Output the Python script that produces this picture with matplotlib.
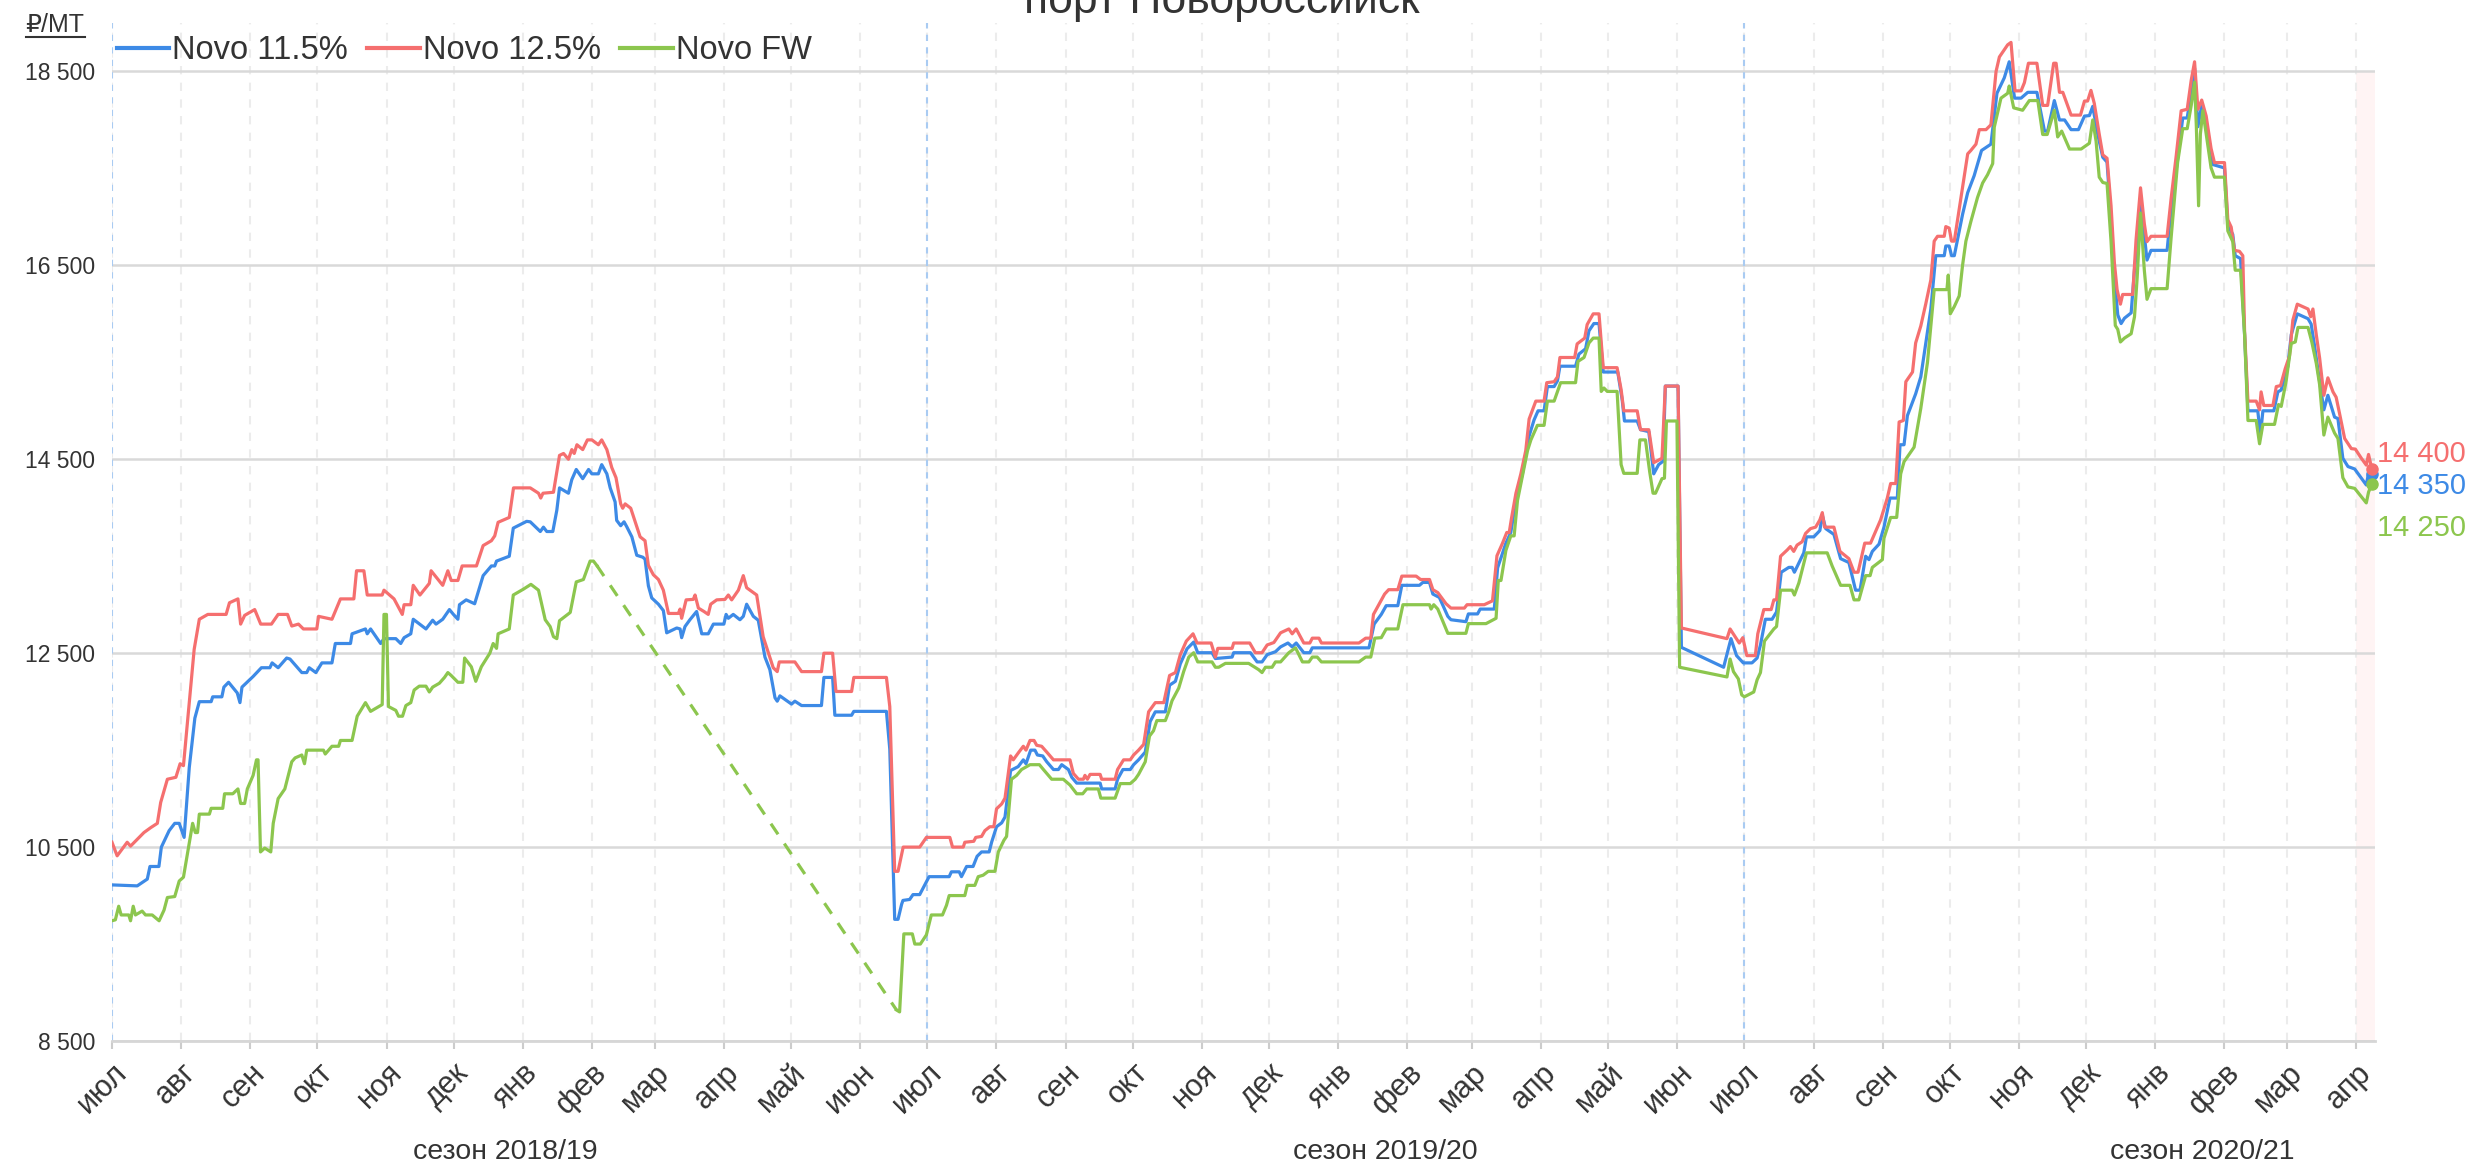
import numpy as np
import pandas as pd
import matplotlib
matplotlib.use("Agg")
import matplotlib.pyplot as plt
import matplotlib.dates as mdates
from matplotlib.ticker import FuncFormatter
from matplotlib.transforms import blended_transform_factory
from matplotlib.lines import Line2D

plt.rcParams['font.family'] = ['Liberation Sans', 'DejaVu Sans']

START = pd.Timestamp("2018-07-01")

# prices, rub/mt; x = days since 2018-07-01
blue_day = [0, 11.3, 15.8, 17, 21, 22.1, 25.6, 28.1, 30.1, 32.3, 34.6, 37.1, 39.1, 44.4, 45.1, 49.2, 50.1, 52.2,
            56.1, 57.3, 58.2, 63.2, 66.9, 70.7, 71.7, 74.4, 78.2, 79.7, 85, 87.2, 88.3, 91.3, 94, 98.5, 100,
            106.8, 107.5, 113.5, 114.3, 115.8, 120.3, 121.8, 127.1, 129.3, 130.8, 133.8, 134.9, 140.6, 143.6,
            145.1, 148.1, 151.1, 152.9, 154.9, 155.6, 158.6, 162.4, 166.2, 169.9, 171.4, 172.2, 177.9, 179.7,
            185.7, 187.3, 191.8, 193.2, 194.7, 197.4, 199.2, 200.4, 204.4, 205.9, 207.9, 210.8, 213.4, 214.9,
            217.8, 219.3, 221.6, 223.1, 225.3, 226, 227.8, 229.3, 230.5, 232.8, 235, 237.7, 238.7, 240.2, 241.7,
            244.7, 246.9, 248.4, 252.9, 254.4, 255.1, 256.6, 258.8, 261.8, 264.1, 267, 269.3, 274, 275, 276,
            278.2, 281.2, 282.7, 284.2, 287.2, 289.4, 292.4, 294.6, 296.9, 297.9, 299.1, 304.3, 305.8, 308.8,
            317.7, 318.8, 322.7, 323.7, 331.2, 332.2, 346.8, 348.3, 350.5, 352, 353.6, 354.2, 357.2, 358.7,
            361.7, 365.9, 374.9, 375.9, 379.4, 380.4, 382.7, 385.6, 387.4, 389.4, 392.8, 393.9, 396.1, 398.4,
            399.9, 402.4, 405.8, 408.1, 409.3, 411.4, 413.3, 414.4, 416.8, 418.6, 421.6, 423.8, 425.3, 428.3,
            429.8, 432, 442.5, 443.2, 449.2, 450.3, 452.7, 456, 457.5, 459.7, 462.7, 464.9, 467.2, 471.7, 473.6,
            476.2, 478.4, 481.4, 484.4, 486.2, 492.6, 494.1, 501.6, 502.3, 509.8, 512.8, 515, 517.3, 521, 523.3,
            526.6, 528.5, 530.3, 533.7, 536.4, 537.5, 562.9, 565.2, 568.4, 570.6, 575.8, 577.6, 585.5, 587, 590,
            591.5, 594.4, 598.2, 599.6, 606.3, 607.4, 611.5, 612.7, 619, 620.5, 624.2, 626.4, 628.7, 631.6,
            634.6, 636.8, 638.6, 641.3, 642.8, 645.8, 647.3, 648.4, 655.4, 656.9, 659.9, 661.4, 663.6, 665.9,
            667.8, 674.3, 676.3, 677.3, 683, 684.5, 688.2, 690.4, 692.6, 694.6, 695.6, 701.3, 702.8, 721.7, 725,
            727.5, 730.5, 734.4, 736.7, 738.2, 740.4, 743.4, 745.4, 747.5, 750.9, 752.4, 753.4, 757.6, 758.8,
            762.1, 764.8, 765.9, 767.4, 771.1, 774.1, 777.8, 780.8, 782.8, 785.3, 786.8, 788.3, 791.3, 793.5,
            796.2, 799.5, 800.7, 802.5, 804, 807.7, 810, 814.5, 816.7, 820.5, 821.2, 822.7, 823.8, 825, 828.7,
            831, 833.9, 837.2, 841.4, 844.1, 847.4, 849.6, 852, 854.9, 857.9, 862, 865.4, 866.8, 869.8, 872.1,
            874.4, 877.3, 880.6, 883.3, 885.5, 887, 889.2, 891.5, 893.4, 895.2, 896.7, 898.2, 899.7, 901.2,
            904.2, 905.7, 906.9, 908.4, 909.9, 911.3, 913.1, 920.3, 922.1, 925, 927.3, 929.3, 931.1, 932.6,
            934.1, 935.8, 937.8, 940.8, 946, 947.5, 949.7, 950.8, 953.2, 955, 956.5, 960.9, 962.1, 963.2, 968.1,
            969.9, 971.4, 974.4, 975.9, 978.6, 983.4, 984.8, 986.3, 988.1, 990.5, 992.3, 995.3, 996.8, 999,
            1001.3, 1004.3, 1009.5, 1010.5, 1012]
blue_val = [10110, 10100, 10170, 10300, 10300, 10500, 10670, 10745, 10745, 10600, 11320, 11830, 12000, 12000,
            12050, 12050, 12150, 12200, 12090, 11990, 12150, 12260, 12350, 12350, 12400, 12350, 12450, 12440,
            12300, 12300, 12350, 12300, 12400, 12400, 12600, 12600, 12700, 12750, 12700, 12750, 12600, 12650,
            12650, 12600, 12660, 12700, 12850, 12750, 12840, 12800, 12850, 12950, 12900, 12850, 13000, 13050,
            13010, 13300, 13400, 13400, 13450, 13500, 13790, 13860, 13855, 13755, 13800, 13755, 13755, 13975,
            14205, 14150, 14290, 14395, 14300, 14395, 14350, 14350, 14445, 14350, 14205, 14060, 13870, 13815,
            13855, 13805, 13700, 13510, 13490, 13470, 13195, 13070, 13005, 12940, 12710, 12760, 12750, 12660,
            12775, 12845, 12930, 12700, 12700, 12800, 12800, 12900, 12860, 12900, 12845, 12880, 13005, 12880,
            12840, 12460, 12330, 12040, 12005, 12060, 11975, 12005, 11960, 11960, 12250, 12250, 11860, 11860,
            11900, 11900, 11510, 9755, 9755, 9910, 9950, 9960, 10010, 10010, 10195, 10195, 10245, 10245, 10195,
            10300, 10300, 10405, 10450, 10450, 10550, 10710, 10750, 10810, 11290, 11330, 11400, 11360, 11500,
            11500, 11450, 11440, 11380, 11300, 11300, 11350, 11300, 11220, 11160, 11160, 11100, 11100, 11200,
            11300, 11300, 11350, 11400, 11480, 11795, 11895, 11895, 12170, 12210, 12390, 12545, 12615, 12505,
            12505, 12445, 12460, 12505, 12505, 12410, 12410, 12485, 12515, 12565, 12605, 12565, 12605, 12505,
            12505, 12555, 12555, 12800, 12900, 12990, 12990, 13200, 13200, 13230, 13230, 13110, 13075, 12880,
            12845, 12825, 12905, 12905, 12955, 12955, 13380, 13635, 13745, 14075, 14350, 14740, 14905, 15000,
            15000, 15250, 15250, 15310, 15460, 15460, 15585, 15640, 15825, 15900, 15900, 15400, 15400, 15110,
            14895, 14895, 14805, 14785, 14350, 14445, 14480, 15255, 15255, 12560, 12355, 12650, 12475, 12400,
            12400, 12450, 12585, 12850, 12850, 12925, 13335, 13385, 13385, 13335, 13535, 13700, 13700, 13765,
            13925, 13785, 13725, 13475, 13435, 13150, 13150, 13500, 13465, 13550, 13625, 13800, 14100, 14100,
            14650, 14650, 14950, 15175, 15350, 16050, 16600, 16600, 16700, 16700, 16600, 16600, 17025, 17250,
            17425, 17685, 17750, 18275, 18435, 18600, 18225, 18225, 18285, 18285, 17885, 17885, 18200, 18000,
            18000, 17900, 17900, 18040, 18045, 18140, 17855, 17615, 17565, 16970, 16380, 15990, 15900, 15955,
            16010, 16455, 16710, 17190, 16855, 16555, 16655, 16655, 17080, 17595, 18020, 18020, 18295, 18535,
            17930, 18150, 17965, 17540, 17505, 16910, 16820, 16600, 16570, 15785, 15000, 15000, 14750, 15000,
            15000, 15195, 15215, 15460, 15785, 16000, 15950, 15895, 15675, 15380, 15010, 15160, 14935, 14920,
            14510, 14425, 14400, 14235, 14355, 14350]

red_day = [0, 2.3, 6.8, 8.3, 14.3, 17.3, 20.3, 21.8, 24.8, 28.6, 30.5, 32, 36.8, 39.1, 42.9, 51.1, 52.6, 56.4,
           57.6, 59.4, 63.9, 66.6, 71.4, 74.4, 78.6, 80.5, 83.5, 85.7, 91.7, 92.5, 98.5, 102.3, 108.3, 109.5,
           112.8, 114.3, 121, 121.8, 126.3, 130, 130.8, 133.8, 134.9, 137.9, 142.1, 142.9, 148.1, 150.4, 151.9,
           154.9, 156.8, 163.2, 166.2, 169.9, 171.4, 172.9, 177.9, 179.8, 187.3, 191, 192, 193, 197.7, 200.4,
           202.2, 204.4, 205.9, 207, 208.2, 210.8, 212.9, 214.9, 217.8, 219.3, 221.6, 223.8, 225.7, 227.8,
           228.7, 229.8, 232.3, 233.5, 236.5, 238.7, 240.2, 242.4, 244.7, 246.9, 249.2, 253.6, 254.4, 255.1,
           257.1, 260.3, 261.1, 262.6, 265.1, 267, 268.1, 270.8, 274.5, 276, 277.5, 280.5, 282.7, 284.2, 288.7,
           291.6, 296.1, 297.9, 298.8, 305.8, 308.8, 317.7, 318.8, 322.7, 324.2, 331.2, 332.2, 346.8, 348.3,
           350.5, 352, 354.3, 361.7, 364.7, 375.2, 376.4, 381.2, 381.9, 385.9, 386.8, 389.4, 390.9, 393.1,
           394.9, 396.1, 398.4, 399.9, 402.4, 403.6, 405.8, 408.1, 409.3, 411.1, 412.9, 414.1, 416.3, 418.6,
           421.6, 429, 430.5, 432.8, 435, 435.7, 436.8, 438, 442.5, 443.2, 449.2, 450.3, 453, 456, 457.5, 459.7,
           462, 464.2, 467.2, 471, 473.6, 476.2, 478.4, 481.1, 484.1, 485.9, 492.2, 494.1, 495.2, 501.6, 502.3,
           509.5, 512, 515, 517.3, 520.3, 523.3, 527, 528.5, 530.3, 533.7, 536.4, 537.5, 540.5, 541.6, 558.4,
           561.4, 563.7, 564.9, 569.9, 571.7, 575.8, 577.6, 584, 586, 590, 591.5, 593.7, 597.4, 599.6, 605.6,
           606.8, 614.5, 618.2, 620.2, 622.7, 624.6, 625.7, 626.7, 628.7, 630.9, 633.1, 634.6, 637.6, 641.3,
           642.5, 645.8, 647.3, 648.4, 655, 656.1, 659.5, 660.6, 663.3, 665.9, 667.8, 674, 675.8, 677, 683,
           684.5, 688.2, 690.4, 694.1, 695.6, 701.3, 702.8, 723.2, 724.6, 728.7, 730.3, 732.1, 735.9, 737,
           739.7, 743, 744.2, 745.4, 747.2, 750.2, 751.6, 753.1, 754.6, 756.9, 758.4, 760.6, 762.9, 764.8,
           765.9, 766.9, 771.1, 773.8, 777.8, 780.1, 781.9, 784.9, 787.5, 792, 795, 796.5, 798.8, 800.3, 802.2,
           803.3, 806.3, 807.7, 810, 812.2, 814.5, 816, 817.5, 820.5, 821.2, 822.7, 823.8, 825, 828, 831, 832.4,
           834.7, 836.2, 839.2, 841.4, 843.7, 845.2, 848.9, 850.4, 852.2, 854.9, 856.4, 858.2, 862, 864.6,
           866.8, 869.5, 870.6, 872.1, 873.6, 877.3, 881.5, 883.3, 884.7, 886.2, 887.7, 889.9, 891.5, 893.4,
           895.2, 896.7, 897.9, 899.4, 900.4, 904.9, 906.4, 908.4, 910.1, 911.3, 913.1, 920.3, 922.1, 924.3,
           926.6, 929.3, 931.1, 932.6, 934.1, 935.8, 937.8, 940, 941.5, 946, 947.5, 949, 950.5, 952.7, 954.2,
           955, 956.5, 960.2, 961.7, 962.4, 963.6, 967.7, 969.2, 971.1, 973.2, 975.1, 976.6, 978.6, 983.4,
           984.6, 985.6, 987.1, 988.6, 990.5, 992.3, 994.6, 996, 997.5, 999.8, 1002.8, 1004.6, 1007.3, 1009.5,
           1010.5, 1012]
red_val = [10550, 10410, 10550, 10510, 10650, 10700, 10745, 10960, 11200, 11220, 11360, 11340, 12540, 12850,
           12900, 12900, 13020, 13060, 12800, 12890, 12950, 12800, 12800, 12900, 12900, 12780, 12800, 12750,
           12750, 12880, 12850, 13060, 13060, 13350, 13350, 13100, 13100, 13150, 13060, 12900, 13000, 13000,
           13200, 13100, 13220, 13350, 13200, 13350, 13250, 13250, 13400, 13400, 13610, 13660, 13710, 13850,
           13900, 14205, 14205, 14150, 14100, 14150, 14160, 14540, 14560, 14500, 14600, 14560, 14650, 14600,
           14700, 14700, 14650, 14700, 14600, 14415, 14310, 14040, 13995, 14040, 13995, 13910, 13700, 13660,
           13405, 13310, 13260, 13150, 12910, 12910, 12955, 12860, 13050, 13055, 13100, 12965, 12930, 12900,
           13005, 13050, 13055, 13100, 13050, 13150, 13300, 13175, 13100, 12670, 12350, 12310, 12410, 12410,
           12310, 12310, 12500, 12500, 12105, 12105, 12250, 12250, 11950, 10250, 10250, 10500, 10500, 10600,
           10600, 10500, 10500, 10550, 10560, 10600, 10610, 10670, 10710, 10710, 10895, 10945, 11005, 11440,
           11400, 11470, 11540, 11500, 11600, 11600, 11550, 11540, 11480, 11400, 11400, 11260, 11200, 11200,
           11240, 11200, 11250, 11250, 11200, 11200, 11300, 11400, 11400, 11450, 11500, 11560, 11895, 11990,
           11990, 12270, 12300, 12485, 12625, 12700, 12605, 12605, 12460, 12550, 12550, 12605, 12605, 12505,
           12505, 12585, 12610, 12710, 12750, 12700, 12750, 12605, 12605, 12655, 12655, 12605, 12605, 12655,
           12655, 12900, 13110, 13155, 13155, 13295, 13295, 13260, 13260, 13155, 13125, 13010, 12965, 12965,
           13000, 13000, 13040, 13505, 13635, 13745, 13745, 13890, 14150, 14350, 14590, 14915, 15100, 15100,
           15290, 15300, 15350, 15550, 15550, 15690, 15750, 15890, 16000, 16000, 15445, 15445, 15220, 15000,
           15000, 14805, 14805, 14465, 14510, 15255, 15255, 12760, 12650, 12750, 12605, 12660, 12475, 12475,
           12700, 12950, 12950, 13050, 13050, 13500, 13565, 13600, 13550, 13615, 13650, 13735, 13785, 13800,
           13875, 13950, 13800, 13800, 13550, 13475, 13335, 13335, 13635, 13635, 13875, 14100, 14250, 14250,
           14885, 14900, 15300, 15400, 15700, 15875, 16100, 16350, 16750, 16800, 16800, 16900, 16885, 16750,
           16750, 17200, 17650, 17685, 17750, 17900, 17900, 17950, 18500, 18650, 18775, 18800, 18300, 18300,
           18385, 18585, 18585, 18150, 18150, 18585, 18585, 18285, 18285, 18050, 18050, 18195, 18195, 18305,
           18170, 17855, 17640, 17605, 17115, 16525, 16250, 16100, 16200, 16200, 16765, 17300, 16930, 16745,
           16800, 16800, 17190, 17615, 18095, 18110, 18410, 18600, 18110, 18205, 18040, 17705, 17560, 17560,
           16970, 16895, 16655, 16645, 16600, 15820, 15100, 15100, 15010, 15195, 15055, 15055, 15250, 15260,
           15435, 15565, 15935, 16100, 16050, 15970, 16050, 15785, 15545, 15160, 15340, 15195, 15140, 14975,
           14715, 14610, 14605, 14510, 14440, 14550, 14400]

green_day = [0, 1.5, 3, 4.1, 7.5, 8.3, 9.5, 10.5, 13.5, 15, 18, 21.1, 23.3, 24.8, 28.1, 30.1, 32, 36.1, 37.3,
             38.3, 39.1, 43.6, 44.4, 49.6, 50.4, 54.1, 56.4, 57.6, 59.4, 60.6, 63.2, 64.7, 65.4, 66.5, 68.4,
             71.1, 72.2, 74.4, 77.4, 80.5, 82, 85, 86.2, 87.2, 94.7, 95.5, 98.5, 101.5, 102.3, 107.5, 109.8,
             113.5, 115.8, 121, 121.8, 122.9, 123.8, 127.1, 128.3, 130.1, 131.6, 133.8, 135.3, 137.6, 140.6,
             142.1, 143.6, 146.6, 148.9, 150.4, 151.9, 154.9, 157.1, 157.9, 160.9, 162.9, 165.4, 169.2, 170.7,
             172.2, 172.9, 177.9, 179.7, 184.2, 187.6, 191, 194, 196.2, 197.7, 199.2, 200.4, 205.2, 207.9, 211.1,
             214.1, 215.6, 217.1,
             351.3, 352.7, 354.6, 358.4, 359.5, 362, 364.7, 366.9, 371.9, 373.7, 374.9, 381.9, 383, 386.4,
             387.9, 390.1, 392.4, 395.4, 396.9, 399.4, 400.6, 402.8, 405.1, 407.3, 411.1, 415.3, 417.1, 420.8,
             426, 429, 432, 434.7, 436.5, 441.7, 442.8, 449.2, 451.5, 456, 458.2, 459.7, 462.7, 464.6, 466.4,
             467.9, 471.7, 473.2, 474.7, 477.7, 479.9, 482.2, 484.4, 486.2, 492.6, 494.1, 495.6, 498.6, 509,
             513.5, 515, 516.5, 519.5, 521, 523.3, 527, 530, 533.1, 536, 537.5, 539.7, 541.6, 558.4, 561.4,
             563.7, 565.5, 568.4, 570.6, 575.8, 578.1, 590, 590.7, 591.9, 593.7, 598.2, 606.3, 607.4, 615.3,
             619.8, 620.8, 622, 624.2, 626.4, 627.9, 629.4, 633.9, 635.4, 638.3, 641.3, 642.8, 645.8, 648.7,
             655.4, 656.5, 659.2, 661.4, 663.3, 665.9, 666.9, 668.1, 669.6, 674, 675.8, 677, 683, 684.2, 686.7,
             688.6, 690.1, 691.2, 694.1, 695.2, 696.1, 700.8, 702, 723.2, 724.6, 726.1, 728.3, 729.8, 731,
             735.2, 736.7, 738.2, 740, 744.2, 745.4, 747.2, 752.4, 753.4, 755.4, 758.8, 768.1, 770.3, 774.1,
             778.3, 780.1, 782.3, 785.3, 787.3, 788.3, 792.8, 793.5, 796.5, 799.2, 801, 802.5, 807, 810, 813,
             816, 821.7, 822.3, 823.2, 825, 827.2, 828.7, 830.2, 832.4, 835.4, 837.7, 839.9, 842.2, 842.9,
             845.9, 848.9, 849.6, 851.6, 855.6, 858.6, 862.4, 864.6, 866.6, 869.8, 871.3, 873.1, 876.6, 881.8,
             885.5, 887, 888.5, 889.9, 891.5, 893.4, 895.2, 897.1, 898.2, 899.4, 901.2, 904.2, 905.7, 906.9,
             908.4, 910.1, 911.3, 913.1, 920.3, 922.1, 925, 927.3, 929.3, 931.1, 932.6, 933.4, 934.4, 935.2,
             936.3, 937.8, 940, 941.5, 946, 947.5, 949.7, 950.8, 953.2, 955, 956.5, 960.2, 961.7, 963.2, 968.4,
             970.2, 971.4, 973.6, 975.9, 977.7, 978.9, 983.4, 985.1, 987.1, 988.6, 990.5, 992.3, 995.3, 996.8,
             999, 1001.3, 1004.3, 1009.5, 1010.5, 1012]
green_val = [9740, 9750, 9890, 9800, 9800, 9740, 9890, 9800, 9840, 9800, 9800, 9740, 9850, 9980, 9990, 10150,
             10190, 10745, 10650, 10650, 10840, 10840, 10900, 10900, 11050, 11050, 11100, 10950, 10950, 11100,
             11240, 11400, 11400, 10450, 10490, 10450, 10745, 11000, 11100, 11380, 11420, 11450, 11360, 11500,
             11500, 11460, 11540, 11540, 11600, 11600, 11850, 11990, 11900, 11970, 12900, 12900, 11950, 11910,
             11850, 11850, 11960, 11990, 12120, 12160, 12160, 12100, 12150, 12190, 12250, 12300, 12270, 12200,
             12200, 12450, 12360, 12210, 12360, 12500, 12600, 12550, 12700, 12750, 13100, 13160, 13210, 13150,
             12845, 12775, 12670, 12650, 12835, 12920, 13235, 13260, 13450, 13450, 13405,
             8820, 8800, 9605, 9605, 9500, 9500, 9595, 9800, 9800, 9900, 10000, 10000, 10105, 10105, 10195,
             10210, 10250, 10250, 10450, 10570, 10610, 11200, 11240, 11300, 11350, 11350, 11300, 11200, 11200,
             11140, 11050, 11050, 11100, 11100, 11005, 11005, 11155, 11155, 11200, 11250, 11380, 11645, 11700,
             11805, 11805, 11895, 12010, 12140, 12310, 12460, 12505, 12410, 12410, 12355, 12355, 12395, 12395,
             12330, 12300, 12355, 12355, 12410, 12410, 12505, 12555, 12410, 12410, 12460, 12460, 12410, 12410,
             12460, 12460, 12655, 12660, 12750, 12750, 13000, 13000, 12955, 13000, 12955, 12705, 12705, 12805,
             12805, 12860, 13250, 13250, 13560, 13710, 13710, 14075, 14590, 14700, 14850, 14850, 15100, 15100,
             15290, 15290, 15510, 15550, 15700, 15750, 15750, 15200, 15235, 15200, 15200, 14445, 14355, 14355,
             14700, 14700, 14370, 14150, 14150, 14300, 14305, 14895, 14895, 12355, 12255, 12440, 12310, 12235,
             12070, 12050, 12100, 12225, 12300, 12625, 12750, 12775, 13150, 13150, 13100, 13225, 13535, 13535,
             13400, 13200, 13200, 13050, 13050, 13300, 13300, 13385, 13465, 13685, 13900, 13900, 14350, 14475,
             14625, 15025, 15500, 16250, 16250, 16400, 16000, 16075, 16185, 16500, 16750, 16950, 17200, 17350,
             17435, 17550, 17925, 18225, 18275, 18350, 18125, 18100, 18200, 18200, 17850, 17850, 18100, 17825,
             17885, 17700, 17700, 17760, 18000, 17780, 17410, 17355, 17345, 16745, 15880, 15840, 15710, 15750,
             15795, 15970, 16375, 17040, 16450, 16150, 16260, 16260, 16785, 17560, 17910, 17910, 18150, 18390,
             17930, 17115, 17855, 18095, 17855, 17505, 17410, 17410, 16855, 16745, 16450, 16450, 15785, 14900,
             14900, 14660, 14860, 14860, 15065, 15045, 15305, 15695, 15710, 15860, 15860, 15710, 15490, 15270,
             14750, 14935, 14770, 14715, 14310, 14215, 14200, 14050, 14160, 14250]

series_names = ["Novo 11.5%", "Novo 12.5%", "Novo FW"]
series_colors = ["#3d8ae6", "#f56f6f", "#8cc64e"]

month_names = ["янв", "фев", "мар", "апр", "май", "июн", "июл", "авг", "сен", "окт", "ноя", "дек"]
season_starts = ["2018-07-01", "2019-07-01", "2020-07-01"]
season_labels = ["сезон 2018/19", "сезон 2019/20", "сезон 2020/21"]
season_label_at = ["2018-12-24", "2020-01-22", "2021-01-22"]
y_ticks = [8500, 10500, 12500, 14500, 16500, 18500]
current_from = "2021-04-01"


def to_dates(days):
    return START + pd.to_timedelta(np.array(days, dtype=float), unit="D")


def fmt(v):
    return f"{int(round(v)):,}".replace(",", " ")


W, H = 2474, 1164
fig = plt.figure(figsize=(W / 100, H / 100), dpi=100)
ax = fig.add_axes([112 / W, 1 - 1041 / H, (2375 - 112) / W, (1041 - 23) / H])
ax.set_axisbelow(True)

x_end = START + pd.Timedelta(days=1013.4)
ax.set_xlim(START, x_end)
ax.set_ylim(8500, 19000)

# current-week band
ax.axvspan(pd.Timestamp(current_from), x_end, ymin=0, ymax=(18500 - 8500) / (19000 - 8500),
           color="#fff4f4", zorder=0, lw=0)

# grid
ax.set_yticks(y_ticks)
ax.yaxis.set_major_formatter(FuncFormatter(lambda v, p: fmt(v)))
ax.grid(axis="y", color="#d9d9d9", lw=1.8)
ax.xaxis.set_major_locator(mdates.MonthLocator())
ax.xaxis.set_major_formatter(FuncFormatter(lambda v, p: month_names[mdates.num2date(v).month - 1]))
ax.grid(axis="x", color="#ececec", lw=1.5, ls=(0, (4, 4)))
for s in season_starts:
    ax.axvline(pd.Timestamp(s), color="#a9cbf2", lw=1.5, ls=(0, (3, 3)), zorder=2)

for sp in ["top", "right", "left"]:
    ax.spines[sp].set_visible(False)
ax.spines["bottom"].set_color("#d6d6d6")
ax.spines["bottom"].set_linewidth(2)

ax.tick_params(axis="y", length=0, pad=12, labelsize=16.5, labelcolor="#333333")
ax.tick_params(axis="x", length=6, width=1.5, color="#cccccc", pad=6, labelsize=22, labelcolor="#333333")
for lab in ax.get_xticklabels():
    lab.set_rotation(45)
    lab.set_ha("right")
    lab.set_va("top")
    lab.set_rotation_mode("anchor")

# lines
all_days = [blue_day, red_day, green_day]
all_vals = [blue_val, red_val, green_val]
label_dy = [-9, 11, -32]
for days, vals, name, col, dy in zip(all_days, all_vals, series_names, series_colors, label_dy):
    d = np.array(days, dtype=float)
    v = np.array(vals, dtype=float)
    breaks = np.where(np.diff(d) > 60)[0]
    parts = np.split(np.arange(len(d)), breaks + 1)
    for k, idx in enumerate(parts):
        ax.plot(to_dates(d[idx]), v[idx], color=col, lw=2.3, zorder=4,
                solid_joinstyle="round", label=name if k == 0 else None)
    for b in breaks:
        ax.plot(to_dates(d[b:b + 2]), v[b:b + 2], color=col, lw=2.3, ls=(0, (4, 3.5)), zorder=4)
    last_x = to_dates(d[-1:])[0]
    ax.plot([last_x], [v[-1]], "o", color=col, ms=8, zorder=5, clip_on=False)
    ax.annotate(fmt(v[-1]), xy=(last_x, v[-1]), xytext=(4, dy), textcoords="offset points",
                ha="left", va="center", fontsize=21, color=col, annotation_clip=False)

# season labels
trans = blended_transform_factory(ax.transData, ax.transAxes)
for lab, at in zip(season_labels, season_label_at):
    ax.text(pd.Timestamp(at), -0.109, lab, transform=trans, ha="center", va="center",
            fontsize=20.5, color="#333333")

leg = ax.legend(loc="center left", bbox_to_anchor=(0.002, 0.9725), ncol=3, frameon=False,
                fontsize=23.5, handlelength=1.6, handletextpad=0.1, columnspacing=0.6,
                borderpad=0, borderaxespad=0, labelcolor="#333333")
for h in leg.get_lines():
    h.set_linewidth(3)

fig.text(0.494, 1 - 13 / H, "порт Новороссийск", ha="center", va="baseline", fontsize=32, color="#333333")

unit = fig.text(55 / W, 1 - 32 / H, "₽/МТ", ha="center", va="baseline", fontsize=18, color="#333333")
fig.canvas.draw()
bb = unit.get_window_extent()
fig.add_artist(Line2D([bb.x0 / W, bb.x1 / W], [(H - 37) / H, (H - 37) / H], color="#333333", lw=1.5))

fig.savefig("out.png", dpi=100)
